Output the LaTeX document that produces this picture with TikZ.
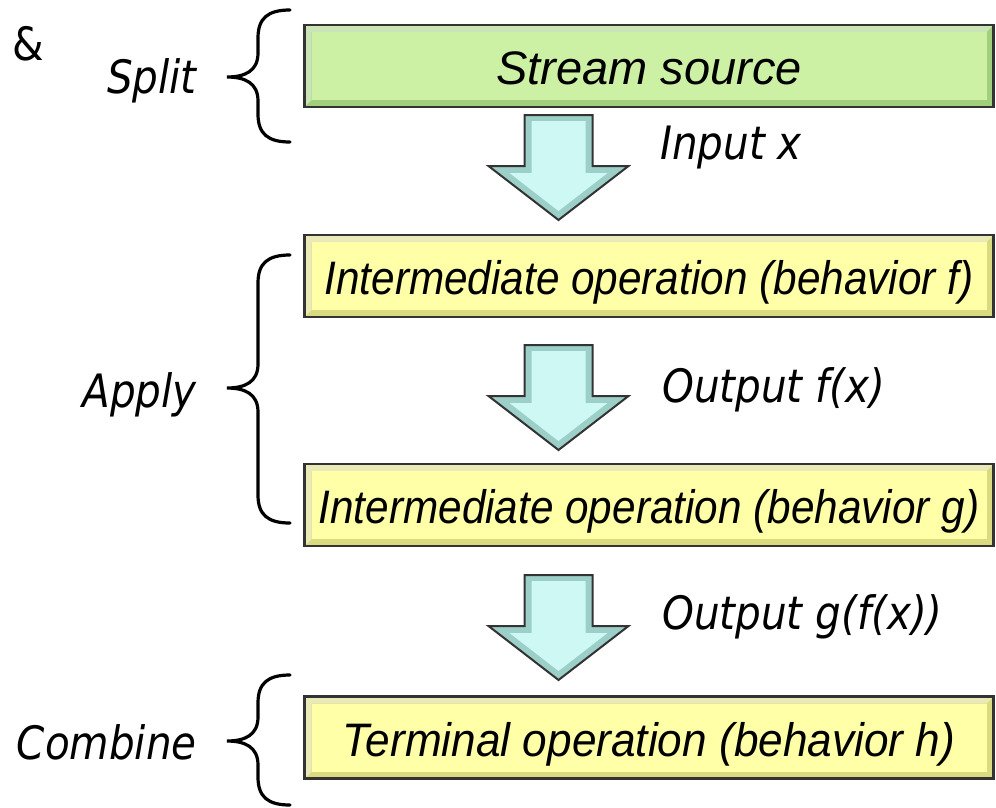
\documentclass[tikz,border=0pt]{standalone}
\usepackage{fontspec}
\usepackage{graphicx}
\usepackage{tikz}
\usetikzlibrary{positioning,calc}

\setmainfont{Liberation Sans}
\newfontfamily\lblfont[FakeStretch=0.88]{DejaVu Sans}

\definecolor{srcgreen}{HTML}{CCF0A4}
\definecolor{srcedge}{HTML}{A2CF7C}
\definecolor{opyellow}{HTML}{FFFFA8}
\definecolor{opedge}{HTML}{DADA80}
\definecolor{arrface}{HTML}{CDF8F4}
\definecolor{arredge}{HTML}{9CCFC8}

\tikzset{
	opbox/.style 2 args={rectangle, draw=black!80, line width=2.2pt, fill=#2,
		minimum width=689pt, minimum height=82pt, inner sep=0pt,
		text height=37pt, text depth=0pt,
		font=\fontsize{47}{56}\selectfont\itshape,
		path picture={
			\fill[#1] ($(path picture bounding box.south west)+(7pt,7pt)$) rectangle ($(path picture bounding box.north east)+(-7pt,-7pt)$);
			\fill[white,opacity=.45] (path picture bounding box.north west) -- (path picture bounding box.north east)
				-- ++(-7pt,-7pt) -- ($(path picture bounding box.north west)+(7pt,-7pt)$)
				-- ($(path picture bounding box.south west)+(7pt,7pt)$) -- (path picture bounding box.south west) -- cycle;
		}},
	lbl/.style={font=\lblfont\fontsize{46}{55}\selectfont\itshape, inner sep=0pt},
	brc/.style={draw=black, line width=3.2pt, line cap=round},
	dnarrow/.pic={
		\fill[arredge] (-34,0) -- (34,0) -- (34,51) -- (70,51) -- (0,105) -- (-70,51) -- (-34,51) -- cycle;
		\fill[arrface] (-27,6) -- (27,6) -- (27,58) -- (49,58) -- (0,96) -- (-49,58) -- (-27,58) -- cycle;
		\draw[black!80, line width=2pt, line join=miter] (-34,0) -- (34,0) -- (34,51) -- (70,51) -- (0,105) -- (-70,51) -- (-34,51) -- cycle;
	}
}

% brace: top y, tip y, bottom y, tip name
\newcommand{\curlybrace}[4]{
	\draw[brc] (290,#1) .. controls (268,#1) and (258,#1+8) .. (258,#1+28) -- (258,#2-24)
		.. controls (258,#2-6) and (245,#2) .. (227,#2) .. controls (245,#2) and (258,#2+6) .. (258,#2+24)
		-- (258,#3-28) .. controls (258,#3-8) and (268,#3) .. (290,#3);
	\coordinate (#4) at (227,#2);
}

\begin{document}
\begin{tikzpicture}[x=1pt,y=-1pt]
	\useasboundingbox (0,0) rectangle (996,807);

	% the four stages
	\node[opbox={srcgreen}{srcedge}] (src) at (649,66) {Stream source};
	\node[opbox={opyellow}{opedge}] (opf) at (649,276) {\scalebox{0.9}[1]{Intermediate operation (behavior f)}};
	\node[opbox={opyellow}{opedge}] (opg) at (649,505) {\scalebox{0.9}[1]{Intermediate operation (behavior g)}};
	\node[opbox={opyellow}{opedge}] (oph) at (649,737.5) {\scalebox{0.94}[1]{Terminal operation (behavior h)}};

	\pic (arrx) at (558.5,115) {dnarrow};
	\pic (arrf) at (558.5,345) {dnarrow};
	\pic (arrg) at (558.5,575) {dnarrow};

	\node[lbl, anchor=base west] (inx) at (660,159) {Input x};
	\node[lbl, anchor=base west] (outf) at (662,402) {Output f(x)};
	\node[lbl, anchor=base west] (outg) at (662,629) {Output g(f(x))};

	\curlybrace{10}{77}{142}{splittip}
	\curlybrace{255}{388}{523}{applytip}
	\curlybrace{675}{741}{805}{combtip}

	\node[lbl, left=30pt of splittip, yshift=-4pt] (split) {Split};
	\node[lbl, left=30pt of applytip, yshift=-7pt] (apply) {Apply};
	\node[lbl, left=30pt of combtip, yshift=-1.5pt] (comb) {Combine};

	\node[lbl, font=\lblfont\fontsize{46}{55}\selectfont] (amp) at (28,44) {\&};
\end{tikzpicture}
\end{document}
